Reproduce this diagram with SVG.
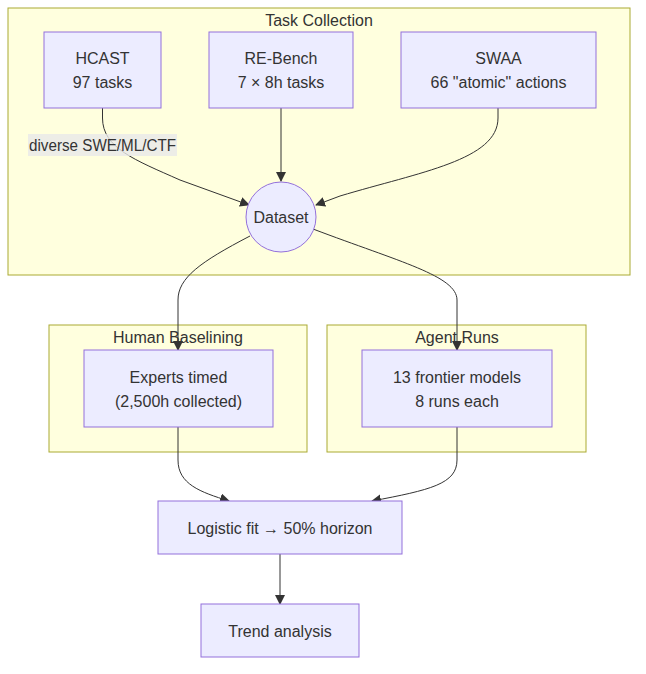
<svg xmlns="http://www.w3.org/2000/svg" width="646" height="674" viewBox="0 0 646 674">
<style>
.cluster rect{fill:#ffffde;stroke:#aaaa33;stroke-width:1}
.node rect,.node circle{fill:#ECECFF;stroke:#9370DB;stroke-width:1}
text{font-family:"Liberation Sans",Arial,sans-serif;font-size:16px;fill:#333;text-anchor:middle;dominant-baseline:central}
.edge{fill:none;stroke:#333;stroke-width:1;marker-end:url(#arrow)}
</style>
<defs>
<marker id="arrow" viewBox="0 0 10 10" refX="9" refY="5" markerUnits="userSpaceOnUse" markerWidth="10" markerHeight="10" orient="auto">
<path d="M0,0 L10,5 L0,10 z" fill="#333"/>
</marker>
</defs>
<rect width="646" height="674" fill="#ffffff"/>
<g id="clusters">
<g id="cluster-task" class="cluster"><rect x="8" y="8" width="622" height="267"/><text x="319" y="20">Task Collection</text></g>
<g id="cluster-human" class="cluster"><rect x="49" y="325" width="258" height="127"/><text x="178" y="337">Human Baselining</text></g>
<g id="cluster-agent" class="cluster"><rect x="327" y="325" width="259" height="127"/><text x="457" y="337">Agent Runs</text></g>
</g>
<g id="connectors">
<path class="edge" d="M102.5,108 L102.5,118 C102.5,148 135,160 180,180 L249,205"/>
<path class="edge" d="M281,108 L281,181"/>
<path class="edge" d="M498,108 L498,118 C498,160 420,172 340,196 L316,205"/>
<path class="edge" d="M250,236 C200,262 178,278 178,300 L178,350"/>
<path class="edge" d="M313,229 C400,262 457,276 457,300 L457,350"/>
<path class="edge" d="M178,427 L178,460 C178,484 200,492 229,501"/>
<path class="edge" d="M457,427 L457,460 C457,484 430,490 372,501"/>
<path class="edge" d="M280,554 L280,604"/>
<g id="edge-label"><rect x="28" y="134" width="149" height="22" fill="#e8e8e8" opacity="0.8"/><text x="102.5" y="145" textLength="147" lengthAdjust="spacingAndGlyphs">diverse SWE/ML/CTF</text></g>
</g>
<g id="hcast" class="node"><rect x="44" y="32" width="117" height="76"/><text x="102.5" y="58">HCAST</text><text x="102.5" y="82">97 tasks</text></g>
<g id="rebench" class="node"><rect x="209" y="32" width="144" height="76"/><text x="281" y="58">RE-Bench</text><text x="281" y="82">7 × 8h tasks</text></g>
<g id="swaa" class="node"><rect x="401" y="32" width="195" height="76"/><text x="498.5" y="58">SWAA</text><text x="498.5" y="82">66 "atomic" actions</text></g>
<g id="dataset" class="node"><circle cx="281" cy="217" r="35"/><text x="281" y="217">Dataset</text></g>
<g id="experts" class="node"><rect x="84" y="350" width="189" height="77"/><text x="178.5" y="377">Experts timed</text><text x="178.5" y="401">(2,500h collected)</text></g>
<g id="agents" class="node"><rect x="362" y="350" width="190" height="77"/><text x="457" y="377">13 frontier models</text><text x="457" y="401">8 runs each</text></g>
<g id="logistic" class="node"><rect x="158" y="501" width="244" height="53"/><text x="280" y="528">Logistic fit → 50% horizon</text></g>
<g id="trend" class="node"><rect x="201" y="604" width="158" height="53"/><text x="280" y="631">Trend analysis</text></g>
</svg>
